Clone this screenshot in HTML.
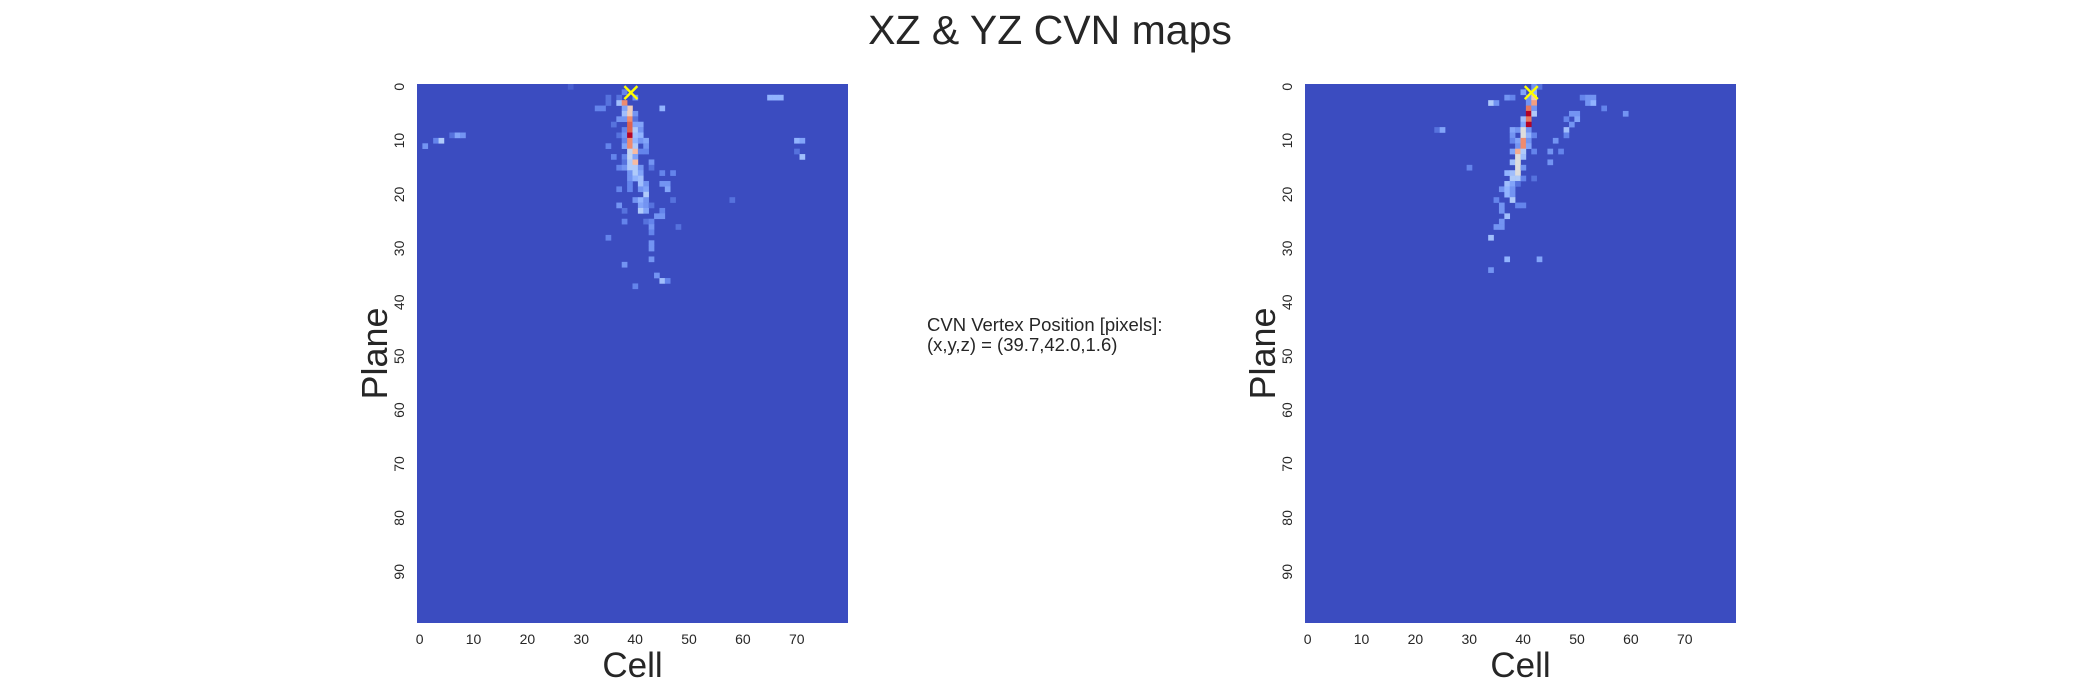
<!DOCTYPE html>
<html><head><meta charset="utf-8"><style>
body{margin:0;background:#fff;}
svg{display:block;font-family:"Liberation Sans",Arial,sans-serif;}
</style></head><body>
<svg id="fig" width="2100" height="700" viewBox="0 0 2100 700" xmlns="http://www.w3.org/2000/svg">
<text x="1050" y="44" text-anchor="middle" font-size="41" fill="#262626">XZ &amp; YZ CVN maps</text>
<text x="927" y="331" font-size="18.5" fill="#262626">CVN Vertex Position [pixels]:</text>
<text x="927" y="351" font-size="18.5" fill="#262626">(x,y,z) = (39.7,42.0,1.6)</text>
<g id="left"></g>
<g id="right"></g>
</svg>
<script>
const nCols = 80, nRows = 100;
const xTicks = [0,10,20,30,40,50,60,70];
const yTicks = [0,10,20,30,40,50,60,70,80,90];
// XZ map hits
const xzCols = [28,40,35,35,37,38,37,38,33,34,39,38,45,38,39,40,37,38,39,40,36,39,40,41,38,39,40,41,37,38,39,40,41,38,39,40,41,42,35,38,39,40,42,39,40,41,42,36,38,39,40,38,39,40,43,37,38,39,40,41,43,39,40,41,45,47,39,40,41,39,41,42,45,46,37,39,41,42,46,42,40,41,42,47,58,37,41,42,43,38,41,42,45,44,45,38,42,43,43,48,43,35,43,43,43,38,44,45,46,40,6,7,8,3,4,1,65,66,67,70,71,70,71];
const xzRows = [0,2,2,3,2,1,3,3,4,4,4,4,4,5,5,5,6,6,6,6,7,7,7,7,8,8,8,8,9,9,9,9,9,10,10,10,10,10,11,11,11,11,11,12,12,12,12,13,13,13,13,14,14,14,14,15,15,15,15,15,15,16,16,16,16,16,17,17,17,18,18,18,18,18,19,19,19,19,19,20,21,21,21,21,21,22,22,22,22,23,23,23,23,24,24,25,25,25,26,26,27,28,29,30,32,33,35,36,36,37,9,9,9,10,10,11,2,2,2,10,10,12,13];
const xzVals = [0.05,0.2,0.1,0.1,0.1,0.15,0.35,0.75,0.15,0.15,0.55,0.25,0.3,0.35,0.55,0.2,0.2,0.2,0.75,0.1,0.1,0.85,0.25,0.25,0.15,0.85,0.4,0.2,0.1,0.2,1.0,0.35,0.3,0.15,0.75,0.3,0.2,0.25,0.15,0.25,0.75,0.4,0.2,0.45,0.6,0.15,0.15,0.15,0.15,0.45,0.25,0.1,0.4,0.6,0.2,0.15,0.2,0.4,0.4,0.2,0.1,0.2,0.4,0.25,0.15,0.15,0.2,0.3,0.35,0.15,0.35,0.2,0.2,0.2,0.15,0.15,0.2,0.25,0.25,0.4,0.2,0.3,0.2,0.1,0.1,0.2,0.25,0.2,0.1,0.1,0.4,0.25,0.15,0.2,0.2,0.15,0.1,0.15,0.2,0.1,0.15,0.15,0.2,0.2,0.2,0.2,0.2,0.35,0.15,0.15,0.1,0.25,0.2,0.15,0.4,0.2,0.3,0.3,0.3,0.3,0.25,0.1,0.35];
// YZ map hits
const yzCols = [42,43,40,42,37,38,41,42,51,52,53,34,35,41,42,52,53,41,42,55,41,42,49,50,59,40,41,48,50,40,41,49,38,39,40,41,48,24,25,38,40,41,42,48,38,39,40,41,46,39,40,41,38,39,40,42,45,47,39,40,38,39,45,39,40,30,37,38,39,38,39,40,42,37,38,39,36,37,38,37,38,38,35,36,39,40,36,37,36,35,36,34,37,43,34];
const yzRows = [0,0,1,1,2,2,2,2,2,2,2,3,3,3,3,3,3,4,4,4,5,5,5,5,5,6,6,6,6,7,7,7,8,8,8,8,8,8,8,9,9,9,9,9,10,10,10,10,10,11,11,11,12,12,12,12,12,12,13,13,14,14,14,15,15,15,16,16,16,17,17,17,17,18,18,18,19,19,19,20,20,21,21,22,22,22,23,24,25,26,26,28,32,32,34];
const yzVals = [0.2,0.1,0.25,0.3,0.2,0.15,0.2,0.55,0.15,0.2,0.2,0.4,0.2,0.2,0.7,0.2,0.3,0.8,0.2,0.15,1.0,0.4,0.2,0.2,0.2,0.35,0.8,0.15,0.25,0.25,1.0,0.2,0.25,0.2,0.5,0.2,0.35,0.1,0.25,0.2,0.5,0.3,0.15,0.15,0.15,0.25,0.75,0.2,0.2,0.2,0.75,0.25,0.25,0.65,0.4,0.15,0.2,0.15,0.5,0.35,0.35,0.5,0.2,0.5,0.2,0.15,0.3,0.35,0.5,0.4,0.4,0.15,0.1,0.35,0.25,0.1,0.2,0.3,0.2,0.3,0.2,0.4,0.15,0.2,0.15,0.15,0.2,0.35,0.2,0.2,0.2,0.35,0.3,0.25,0.2];
const vertexXZ = [39.7, 1.6];
const vertexYZ = [42.0, 1.6];

const NS = "http://www.w3.org/2000/svg";
const stops = [[0,[59,76,192]],[0.143,[98,130,234]],[0.286,[141,176,254]],[0.429,[184,208,249]],[0.5,[221,221,221]],[0.571,[245,196,173]],[0.714,[244,154,123]],[0.857,[222,96,77]],[1,[180,4,38]]];
function cmap(v){
  v=Math.max(0,Math.min(1,v));
  for(let i=1;i<stops.length;i++){
    if(v<=stops[i][0]){
      const a=stops[i-1],b=stops[i],t=(v-a[0])/(b[0]-a[0]);
      return 'rgb('+a[1].map((c,k)=>Math.round(c+(b[1][k]-c)*t)).join(',')+')';
    }
  }
  return 'rgb(180,4,38)';
}
function mk(tag,attrs,parent){const e=document.createElementNS(NS,tag);for(const k in attrs)e.setAttribute(k,attrs[k]);parent.appendChild(e);return e;}

function drawMap(g, x0, cols, rows, vals, vertex){
  const y0=84, W=431, H=539;
  const sx=c=>x0+c*W/nCols, sy=r=>y0+r*H/nRows;
  const bg=mk('rect',{x:x0,y:y0,width:W,height:H,fill:cmap(0)},g);
  
  
  for(let i=0;i<cols.length;i++){
    const r=mk('rect',{x:sx(cols[i]),y:sy(rows[i]),width:sx(cols[i]+1)-sx(cols[i])+0.3,height:sy(rows[i]+1)-sy(rows[i])+0.3,fill:cmap(vals[i])},g);
    
    
  }
  const vx=sx(vertex[0]), vy=sy(vertex[1]), s=6.5;
  const m=mk('path',{d:`M${vx-s},${vy-s}L${vx+s},${vy+s}M${vx-s},${vy+s}L${vx+s},${vy-s}`,stroke:'#ffff00','stroke-width':2.4,fill:'none'},g);
  
  
  xTicks.forEach(t=>{
    const tx=mk('text',{x:sx(t+0.5),y:644,'text-anchor':'middle','font-size':14,fill:'#262626'},g);
    tx.textContent=t;
    
    
  });
  yTicks.forEach(t=>{
    const cy=sy(t+0.5), cx=399+(x0-417);
    const ty=mk('text',{x:cx,y:cy,'text-anchor':'middle','dominant-baseline':'central','font-size':14,fill:'#262626',transform:`rotate(-90 ${cx} ${cy})`},g);
    ty.textContent=t;
    
    
  });
  const xl=mk('text',{x:x0+W/2,y:677,'text-anchor':'middle','font-size':35,fill:'#262626'},g);
  xl.textContent='Cell';
  
  
  const lx=387+(x0-417), ly=y0+H/2;
  const yl=mk('text',{x:lx,y:ly,'text-anchor':'middle','font-size':36,fill:'#262626',transform:`rotate(-90 ${lx} ${ly})`},g);
  yl.textContent='Plane';
  
  
}
drawMap(document.getElementById('left'),417,xzCols,xzRows,xzVals,vertexXZ);
drawMap(document.getElementById('right'),1305,yzCols,yzRows,yzVals,vertexYZ);
</script>
</body></html>
